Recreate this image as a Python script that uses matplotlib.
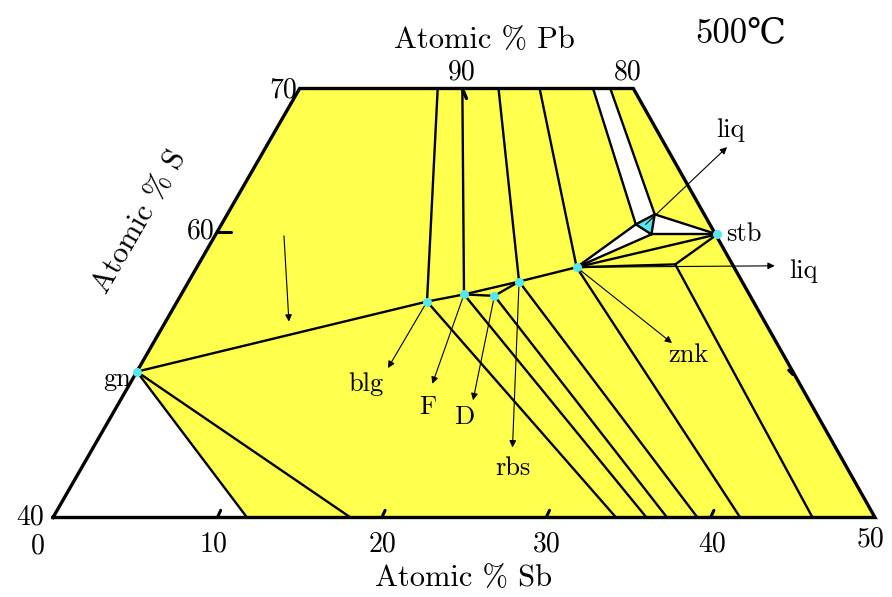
import numpy as np
import matplotlib.pyplot as plt
from matplotlib.patches import Polygon

# all compositions given as (at.% Sb, at.% S); Pb is the rest
outline_sb = [0, 50, 20.3, 0]
outline_s = [40, 40, 70, 70]

phase_names = ['gn', 'blg', 'F', 'D', 'rbs', 'znk', 'stb']
phase_sb = [0.0, 15.2, 17.2, 19.1, 20.1, 23.1, 30.5]
phase_s = [50.2, 55.1, 55.6, 55.5, 56.5, 57.5, 59.8]

# liquid three-phase triangle (left, top, bottom corners)
liq_sb = [25.2, 26.0, 26.5]
liq_s = [60.5, 61.2, 59.8]
kink = (29.0, 57.7)

# tie lines running up to the S=70 edge
top_sb = [8.4, 9.9, 12.1, 14.6, 17.85, 18.9]
top_to = ['blg', 'F', 'rbs', 'znk', 'liqL', 'liqT']
# tie lines running down to the S=40 edge
bot_sb = [11.8, 18.1, 34.25, 36.1, 37.35, 39.2, 41.8, 46.2]
bot_from = ['gn', 'gn', 'blg', 'F', 'D', 'rbs', 'znk', 'kink']

# label arrows: (tail, head)
arrows = [
    ((25.8, 60.5), (28.05, 65.9)),
    ((23.1, 57.5), (35.1, 57.6)),
    ((23.1, 57.5), (31.55, 52.2)),
    ((15.2, 55.1), (15.15, 50.45)),
    ((17.2, 55.6), (18.4, 49.35)),
    ((19.1, 55.5), (21.45, 48.2)),
    ((20.1, 56.5), (25.5, 44.9)),
    ((4.2, 59.7), (7.5, 53.7)),
]

YELLOW = '#ffff4d'
CYAN = '#55e6ee'


def tern(sb, s):
    sb = np.asarray(sb, dtype=float)
    s = np.asarray(s, dtype=float)
    return sb + (s - 40) / 2, s


pts = {n: (a, b) for n, a, b in zip(phase_names, phase_sb, phase_s)}
pts['liqL'] = (liq_sb[0], liq_s[0])
pts['liqT'] = (liq_sb[1], liq_s[1])
pts['liqB'] = (liq_sb[2], liq_s[2])
pts['kink'] = kink

fig = plt.figure(figsize=(8.92, 5.97), dpi=100)
ax = fig.add_axes([0, 0, 1, 1])
ax.set_xlim(-53 / 16.44, 839 / 16.44)
ax.set_ylim(40 - 79.5 / 14.3, 40 + 517.5 / 14.3)
ax.axis('off')


def poly(names_or_pts, color, z):
    xs, ys = [], []
    for p in names_or_pts:
        sb, s = pts[p] if isinstance(p, str) else p
        x, y = tern(sb, s)
        xs.append(x)
        ys.append(y)
    ax.add_patch(Polygon(np.column_stack([xs, ys]), closed=True,
                         facecolor=color, edgecolor='none', zorder=z))


def seg(a, b, lw=1.7):
    a = pts[a] if isinstance(a, str) else a
    b = pts[b] if isinstance(b, str) else b
    x, y = tern([a[0], b[0]], [a[1], b[1]])
    ax.plot(x, y, color='black', lw=lw, solid_capstyle='round', zorder=3)


# fills
poly(list(zip(outline_sb, outline_s)), YELLOW, 1)
poly([(0, 40), 'gn', (bot_sb[0], 40)], 'white', 2)
poly([(top_sb[4], 70), (top_sb[5], 70), 'liqT', 'liqL'], 'white', 2)
poly(['znk', 'liqL', 'liqB'], 'white', 2)
poly(['liqT', 'liqB', 'stb'], 'white', 2)
poly(['liqL', 'liqT', 'liqB'], CYAN, 2)

# outline
x, y = tern(outline_sb + [outline_sb[0]], outline_s + [outline_s[0]])
ax.plot(x, y, color='black', lw=2.4, zorder=4, solid_joinstyle='miter')

# tie lines
for sb, t in zip(top_sb, top_to):
    seg((sb, 70), t)
for sb, f in zip(bot_sb, bot_from):
    seg(f, (sb, 40))
for a, b in [('gn', 'blg'), ('blg', 'F'), ('F', 'rbs'), ('rbs', 'znk'),
             ('F', 'D'), ('D', 'rbs'),
             ('znk', 'liqL'), ('znk', 'liqB'), ('liqL', 'liqT'),
             ('liqT', 'liqB'), ('liqB', 'liqL'),
             ('liqT', 'stb'), ('liqB', 'stb'), ('znk', 'stb'),
             ('znk', 'kink'), ('kink', 'stb')]:
    seg(a, b)

# axis ticks
for sb in [10, 20, 30, 40]:
    seg((sb, 40), (sb - 0.05, 40.5), lw=2.2)
seg((0, 60), (0.8, 60), lw=2.2)
seg((40.0, 50), (39.6, 50.3), lw=2.2)
seg((9.9, 70), (10.5, 69.3), lw=2.4)

# arrows
for tail, head in arrows:
    t = tern(*tail)
    h = tern(*head)
    ax.annotate('', xy=(float(h[0]), float(h[1])), xytext=(float(t[0]), float(t[1])),
                arrowprops=dict(arrowstyle='-|>', lw=0.8, color='black',
                                mutation_scale=10, shrinkA=0, shrinkB=0),
                zorder=5)

# phase points
x, y = tern(phase_sb, phase_s)
ax.plot(x, y, 'o', color=CYAN, ms=6.5, mec='none', zorder=6)

FONT = ['cmr10', 'DejaVu Serif']


def label(px, py, txt, size=15, **kw):
    fig.text(px / 892, 1 - py / 597, txt, ha='center', va='center',
             fontsize=size, family=FONT, **kw)


label(484, 40, 'Atomic % Pb', 22)
label(741, 33, '500℃', 25)
label(140, 222, 'Atomic % S', 22, rotation=60)
label(464, 578, 'Atomic % Sb', 22)
label(283, 90, '70', 20)
label(201, 231, '60', 20)
label(30, 517, '40', 20)
label(38, 546, '0', 20)
for px, t in [(213, '10'), (383, '20'), (547, '30'), (712, '40')]:
    label(px, 544, t, 20)
label(871, 539, '50', 20)
label(462, 72, '90', 20)
label(628, 72, '80', 20)

for px, py, t in [(730, 130, 'liq'), (744, 234, 'stb'), (803, 271, 'liq'),
                  (688, 355, 'znk'), (366, 384, 'blg'), (428, 407, 'F'),
                  (464, 417, 'D'), (513, 468, 'rbs'), (117, 379, 'gn')]:
    label(px, py, t, 19)

fig.savefig('out.png', dpi=100)
